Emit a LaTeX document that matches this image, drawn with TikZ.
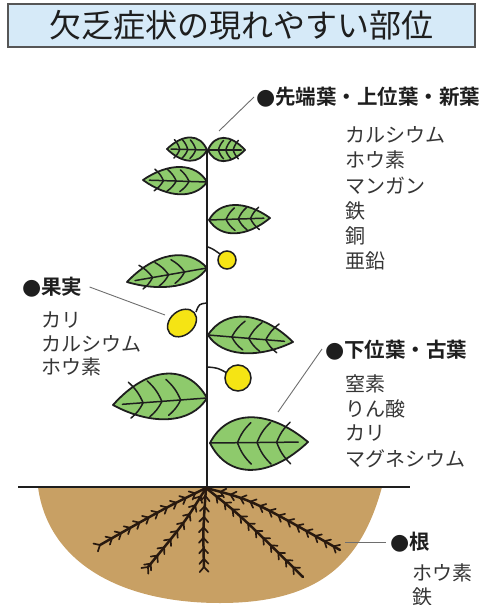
\documentclass[tikz,border=0pt]{standalone}
\usepackage{fontspec}
\setmainfont{Noto Sans CJK JP}[BoldFont={Noto Sans CJK JP Bold}]
\newfontfamily\dotfont{DejaVu Sans}
\usetikzlibrary{calc,decorations.markings}

\definecolor{leafgreen}{RGB}{142,202,108}
\definecolor{soil}{RGB}{200,160,100}
\definecolor{fruit}{RGB}{245,228,20}
\definecolor{titlefill}{RGB}{214,234,248}
\definecolor{ink}{RGB}{30,30,30}
\definecolor{rootc}{RGB}{40,25,15}
\definecolor{leadc}{RGB}{110,110,110}

\newcommand\bul{{\dotfont\fontsize{22}{24}\selectfont ●}}

\tikzset{
  leafbody/.style={fill=leafgreen, draw=ink, line width=1.8pt, line join=round},
  vein/.style={draw=ink, line width=1.5pt, line cap=round},
  stemline/.style={draw=ink, line width=1.8pt},
  fruitbody/.style={fill=fruit, draw=ink, line width=1.5pt},
  leader/.style={draw=leadc, line width=0.9pt},
  titlebox/.style={draw=ink!75, line width=1.2pt, fill=titlefill, inner sep=0pt,
    minimum width=467pt, minimum height=43pt, text=ink,
    font=\fontsize{32}{36}\selectfont},
  head/.style={font=\fontsize{20.5}{24}\selectfont\bfseries, text=ink, inner sep=0pt, anchor=west},
  item/.style={font=\fontsize{20}{24}\selectfont, text=ink!90, inner sep=0pt, anchor=west},
  barb/.style={draw=rootc, line width=1.7pt, line cap=round, line join=round},
  rootline/.style={draw=rootc, line width=2.5pt, line cap=round,
    postaction={decorate, decoration={markings,
      mark=between positions 0.1 and 0.97 step 10.5pt with {\draw[barb] (5pt,4.5pt) -- (0,0) -- (5pt,-4.5pt);},
      mark=at position 1 with {\draw[barb] (5pt,4.5pt) -- (0,0) -- (5pt,-4.5pt);}}}},
}

% leaf from base #1 to tip #2; #3 = half width on the counter-clockwise side, #4 on the clockwise side
\newcommand\drawleaf[4]{%
  \pgfmathsetmacro\lwa{1.35*#3}%
  \pgfmathsetmacro\lwb{1.35*#4}%
  \pgfmathsetmacro\lva{0.8*#3}%
  \pgfmathsetmacro\lvb{0.8*#4}%
  \path[leafbody] (#1)
    .. controls ($(#1)!0.18!(#2)!\lwa pt!90:(#2)$) and ($(#1)!0.6!(#2)!\lwa pt!90:(#2)$) .. (#2)
    .. controls ($(#1)!0.6!(#2)!\lwb pt!-90:(#2)$) and ($(#1)!0.18!(#2)!\lwb pt!-90:(#2)$) .. cycle;
  \draw[vein] (#1) -- ($(#1)!0.9!(#2)$);
  \foreach \s in {0.28,0.48,0.68} {
    \pgfmathsetmacro\se{\s+0.14}
    \draw[vein] ($(#1)!\s!(#2)$) to[bend left=12] ($(#1)!\se!(#2)!\lva pt!90:(#2)$);
    \draw[vein] ($(#1)!\s!(#2)$) to[bend right=12] ($(#1)!\se!(#2)!\lvb pt!-90:(#2)$);
  }
}

\begin{document}
\begin{tikzpicture}[x=1pt, y=-1pt]
  \useasboundingbox (0,0) rectangle (495,605);

  % title
  \node[titlebox] (title) at (241.5,25.5) {欠乏症状の現れやすい部位};

  % soil and ground line
  \fill[soil] (38,487) .. controls (48,562) and (120,603) .. (220,603)
     .. controls (322,603) and (362,560) .. (382,487) -- cycle;
  \coordinate (gl) at (18,487);
  \coordinate (gr) at (410,487);
  \draw[ink, line width=1.4pt] (gl) -- (gr);

  % roots
  \coordinate (rootbase) at (206,488);
  \draw[rootline] (rootbase) .. controls (165,508) .. (100,545);
  \draw[rootline] (rootbase) .. controls (185,522) .. (148,567);
  \draw[rootline] (rootbase) .. controls (203,530) .. (204,567);
  \draw[rootline] (rootbase) .. controls (240,515) .. (303,577);
  \draw[rootline] (rootbase) .. controls (252,500) .. (340,550);

  % stem
  \coordinate (stemtop) at (207,150);
  \coordinate (stembot) at (207,487);
  \draw[stemline] (stemtop) -- (stembot);

  % leaves (base, tip)
  \coordinate (b1) at (207,150); \coordinate (t1) at (167,149);
  \coordinate (b2) at (208,150); \coordinate (t2) at (245,150);
  \coordinate (b3) at (207,182); \coordinate (t3) at (143,180);
  \coordinate (b4) at (209,220); \coordinate (t4) at (270,218);
  \coordinate (b5) at (207,268); \coordinate (t5) at (127,282);
  \coordinate (b6) at (208,335); \coordinate (t6) at (293,342);
  \coordinate (b7) at (207,398); \coordinate (t7) at (113,405);
  \coordinate (b8) at (210,443); \coordinate (t8) at (308,442);
  \drawleaf{b1}{t1}{11}{12}
  \drawleaf{b2}{t2}{12}{11}
  \drawleaf{b3}{t3}{13}{14}
  \drawleaf{b4}{t4}{14}{14}
  \drawleaf{b5}{t5}{12}{18}
  \drawleaf{b6}{t6}{21}{15}
  \drawleaf{b7}{t7}{18}{27}
  \drawleaf{b8}{t8}{25}{27}

  % fruits and their stalks
  \coordinate (f1) at (227,260);
  \coordinate (f2) at (182,323);
  \coordinate (f3) at (238,378);
  \draw[stemline, line width=1.5pt] (208,247) .. controls (213,249) .. (220,254);
  \draw[stemline, line width=1.5pt] (207,303) .. controls (199,304) .. (196,312);
  \draw[stemline, line width=1.5pt] (208,367) .. controls (218,368) .. (227,373);
  \draw[fruitbody] (f1) circle [radius=9];
  \draw[fruitbody, rotate around={40:(f2)}] (f2) ellipse [x radius=16, y radius=12];
  \draw[fruitbody] (f3) circle [radius=13];

  % labels
  \node[head] (hTop) at (256,97) {\bul 先端葉・上位葉・新葉};
  \foreach \t [count=\i from 0] in {カルシウム,ホウ素,マンガン,鉄,銅,亜鉛}
    \node[item] at (345,{135+25.2*\i}) {\t};

  \node[head] (hFruit) at (22,287) {\bul 果実};
  \foreach \t [count=\i from 0] in {カリ,カルシウム,ホウ素}
    \node[item] at (41,{320+23.5*\i}) {\t};

  \node[head] (hLow) at (325,350) {\bul 下位葉・古葉};
  \foreach \t [count=\i from 0] in {窒素,りん酸,カリ,マグネシウム}
    \node[item] at (345,{383.5+25*\i}) {\t};

  \node[head] (hRoot) at (390,542) {\bul 根};
  \foreach \t [count=\i from 0] in {ホウ素,鉄}
    \node[item] at (412,{572.5+24*\i}) {\t};

  % leader lines
  \coordinate (pTop) at (219,131);
  \coordinate (pFruit) at (165,315);
  \coordinate (pLow) at (278,412);
  \coordinate (pRoot) at (345,542);
  \draw[leader] (pTop) -- ([xshift=-2pt]hTop.west);
  \draw[leader] (pFruit) -- ([xshift=7pt]hFruit.east);
  \draw[leader] (pLow) -- ([xshift=-3pt,yshift=1pt]hLow.west);
  \draw[leader] (pRoot) -- ([xshift=-4pt]hRoot.west);
\end{tikzpicture}
\end{document}
